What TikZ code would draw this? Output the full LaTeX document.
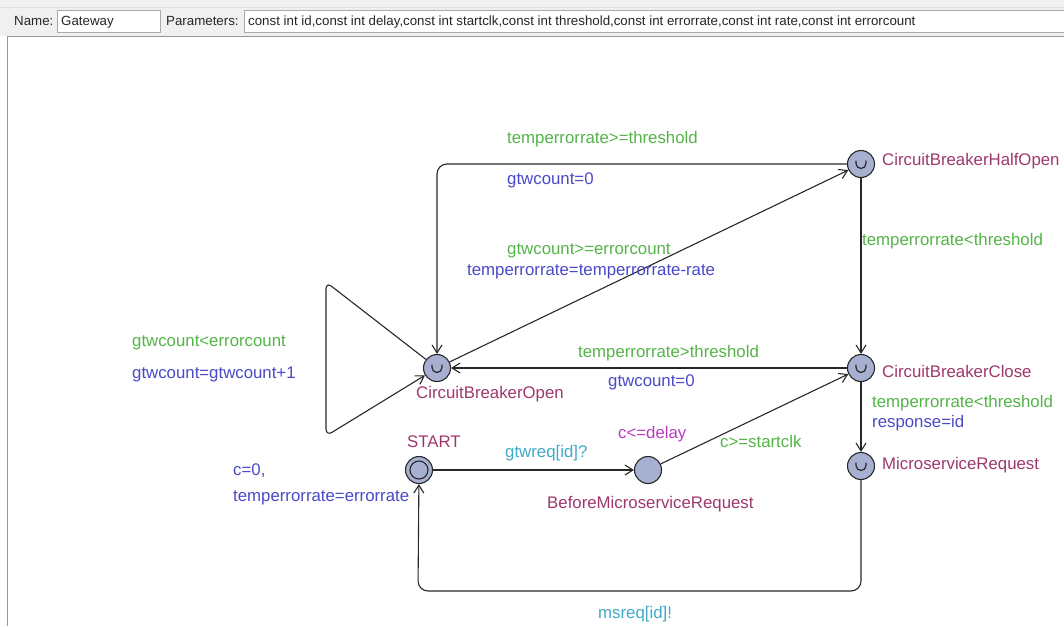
\documentclass[tikz,border=0pt]{standalone}
\usepackage{fontspec}
\setmainfont{Liberation Sans}
\usetikzlibrary{arrows.meta}
\definecolor{locname}{RGB}{158,56,108}
\definecolor{guardc}{RGB}{84,180,72}
\definecolor{updatec}{RGB}{74,74,200}
\definecolor{syncc}{RGB}{64,170,200}
\definecolor{invc}{RGB}{184,60,190}
\definecolor{locfill}{RGB}{168,176,210}
\definecolor{hdrbg}{RGB}{240,240,240}
\definecolor{boxline}{RGB}{170,170,170}
\definecolor{frameline}{RGB}{150,150,155}
\definecolor{linec}{RGB}{40,40,40}
\begin{document}
\begin{tikzpicture}[x=1pt,y=-1pt,
  loc/.style={circle,draw=linec,fill=locfill,line width=1.1pt,minimum size=27pt,inner sep=0pt},
  edge/.style={draw=linec,line width=1.1pt,-{Straight Barb[length=8pt,width=10pt,line width=1.1pt]}},
  txt/.style={anchor=base west,inner sep=0pt,font=\fontsize{16.8}{20}\selectfont},
  lname/.style={txt,text=locname},
  guard/.style={txt,text=guardc},
  upd/.style={txt,text=updatec},
  sync/.style={txt,text=syncc},
  inv/.style={txt,text=invc},
  hdr/.style={anchor=base west,inner sep=0pt,font=\fontsize{13.3}{15}\selectfont,text=black!85},
  urg/.style={draw=linec,line width=1.2pt}]
\useasboundingbox (0,0) rectangle (1064,626);
\fill[white] (0,0) rectangle (1064,626);

% header with name and parameter fields
\fill[hdrbg] (0,0) rectangle (1064,36);
\draw[black!12] (0,7.5) -- (1064,7.5);
\draw[boxline,fill=white] (57.5,10.5) rectangle (160.5,32.5);
\draw[boxline,fill=white] (244.5,10.5) rectangle (1070,32.5);
\node[hdr] (hname) at (14,25.5) {Name:};
\node[hdr] (hnamev) at (61,25.5) {Gateway};
\node[hdr] (hpar) at (166,25.5) {Parameters:};
\node[hdr] (hparv) at (248,25.5) {const int id,const int delay,const int startclk,const int threshold,const int errorrate,const int rate,const int errorcount};

% canvas frame
\draw[frameline,line width=1.5pt] (7.5,36.5) -- (1064,36.5);
\draw[frameline,line width=1.5pt] (7.5,36.5) -- (7.5,626);

% locations
\node[loc] (hopen) at (861,164) {};
\node[loc] (open) at (437,368) {};
\node[loc] (close) at (861,368) {};
\node[loc] (mr) at (861,466) {};
\node[loc] (start) at (419,470) {};
\node[loc] (before) at (648,470) {};
\draw[linec,line width=1.1pt] (start) circle (9);

% urgent marks
\foreach \n in {hopen,open,close,mr}{
  \draw[urg] ([shift={(-5,-3.5)}]\n.center) -- ++(0,3) arc[start angle=180,end angle=0,radius=5] -- ++(0,-3);
}

% location names and invariant
\node[lname] (nhopen) at (882,165) {CircuitBreakerHalfOpen};
\node[lname] (nopen) at (416,398) {CircuitBreakerOpen};
\node[lname] (nclose) at (882,377) {CircuitBreakerClose};
\node[lname] (nmr) at (882,469) {MicroserviceRequest};
\node[lname] (nstart) at (407,447) {START};
\node[lname] (nbefore) at (547,508) {BeforeMicroserviceRequest};
\node[inv] (ibefore) at (618,438) {c<=delay};

% helper points for bent edges
\coordinate (lt) at (326,282);
\coordinate (lb) at (326,436);
\coordinate (br) at (861,591);
\coordinate (bl) at (418,591);

% edges
\draw[edge,rounded corners=10] (hopen) -| (open);
\draw[edge] (open) -- (hopen);
\draw[edge] (hopen) -- (close);
\draw[edge] (close) -- (open);
\draw[edge,rounded corners=7] (open) -- (lt) -- (lb) -- (open);
\draw[edge] (start) -- (before);
\draw[edge] (before) -- (close);
\draw[edge] (close) -- (mr);
\draw[edge,rounded corners=10] (mr) -- (br) -- (bl) -- (start);

% edge labels
\node[guard] (g1) at (507,143) {temperrorrate>=threshold};
\node[upd] (u1) at (507,184) {gtwcount=0};
\node[guard] (g2) at (507,254) {gtwcount>=errorcount};
\node[upd] (u2) at (467,275) {temperrorrate=temperrorrate-rate};
\node[guard] (g3) at (862,245) {temperrorrate<threshold};
\node[guard] (g4) at (578,357) {temperrorrate>threshold};
\node[upd] (u4) at (608,386) {gtwcount=0};
\node[guard] (g5) at (132,346) {gtwcount<errorcount};
\node[upd] (u5) at (132,378) {gtwcount=gtwcount+1};
\node[sync] (s6) at (505,457) {gtwreq[id]?};
\node[guard] (g7) at (720,447) {c>=startclk};
\node[guard] (g8) at (872,407) {temperrorrate<threshold};
\node[upd] (u8) at (872,427) {response=id};
\node[sync] (s9) at (598,618) {msreq[id]!};
\node[upd] (u0a) at (233,475) {c=0,};
\node[upd] (u0b) at (233,501) {temperrorrate=errorrate};
\end{tikzpicture}
\end{document}
